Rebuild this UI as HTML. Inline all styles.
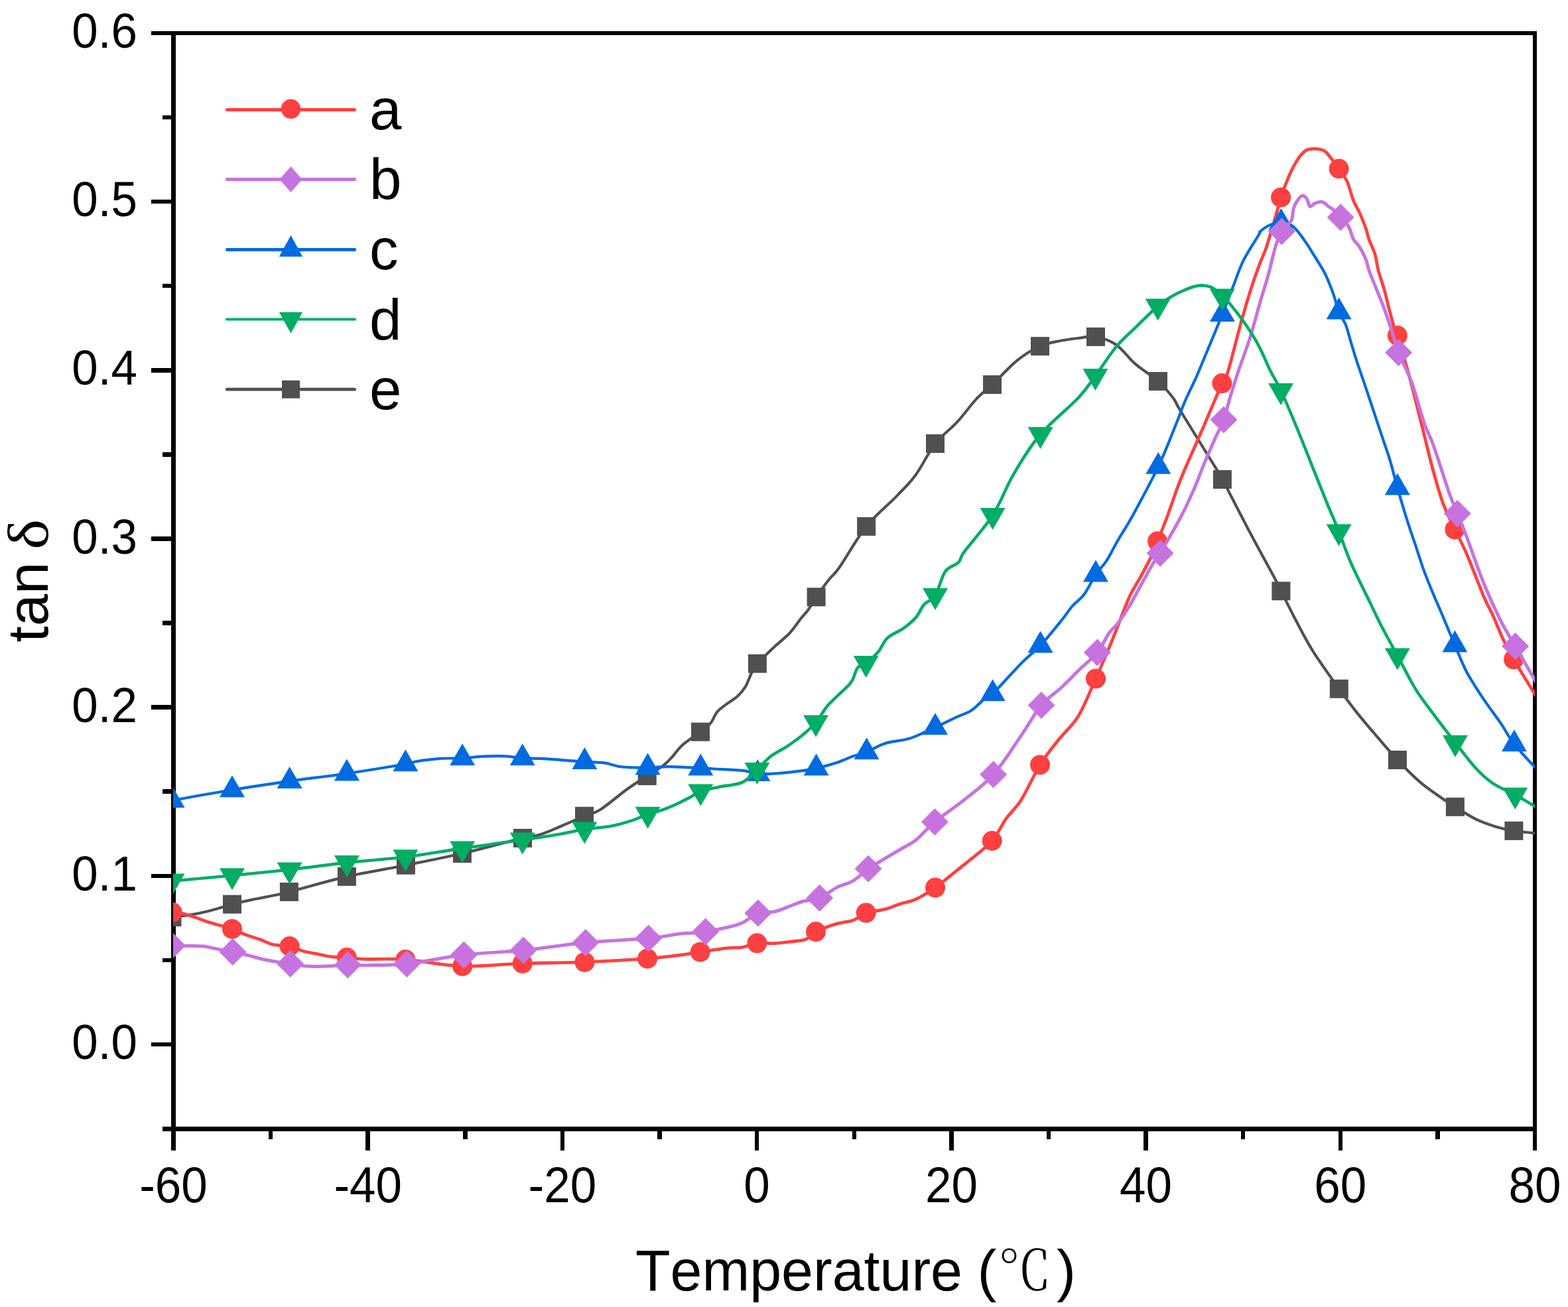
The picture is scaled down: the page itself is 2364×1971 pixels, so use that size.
<!DOCTYPE html>
<html><head><meta charset="utf-8"><title>tan delta vs Temperature</title>
<style>
html,body{margin:0;padding:0;background:#fff;}
svg{display:block;}
text{font-kerning:none;}
.tl{font-family:'Liberation Sans', Arial, sans-serif;font-size:71px;fill:#000;}
.at{font-family:'Liberation Sans', Arial, sans-serif;font-size:87px;fill:#000;}
.lg{font-family:'Liberation Sans', Arial, sans-serif;font-size:87px;fill:#000;}
.cj{font-family:'Noto Serif CJK SC','Liberation Serif',serif;font-weight:300;font-size:87px;fill:#000;}
.at.sy{font-family:'Liberation Serif',serif;}
</style></head>
<body>
<svg width="2364" height="1971" viewBox="0 0 2364 1971">
<defs><clipPath id="pa"><rect x="261" y="50" width="2053" height="1652.5"/></clipPath></defs>
<rect width="2364" height="1971" fill="#fff"/>
<g shape-rendering="crispEdges">
<rect x="258" y="47" width="2059" height="6" fill="#000"/>
<rect x="245" y="1699" width="2072" height="7" fill="#000"/>
<rect x="258" y="47" width="7" height="1688" fill="#000"/>
<rect x="2311" y="47" width="6" height="1659" fill="#000"/>
<rect x="245" y="1698.84" width="13" height="6.5" fill="#000"/>
<rect x="228" y="1571.75" width="30" height="6.5" fill="#000"/>
<rect x="245" y="1444.66" width="13" height="6.5" fill="#000"/>
<rect x="228" y="1317.58" width="30" height="6.5" fill="#000"/>
<rect x="245" y="1190.49" width="13" height="6.5" fill="#000"/>
<rect x="228" y="1063.41" width="30" height="6.5" fill="#000"/>
<rect x="245" y="936.32" width="13" height="6.5" fill="#000"/>
<rect x="228" y="809.24" width="30" height="6.5" fill="#000"/>
<rect x="245" y="682.15" width="13" height="6.5" fill="#000"/>
<rect x="228" y="555.07" width="30" height="6.5" fill="#000"/>
<rect x="245" y="427.99" width="13" height="6.5" fill="#000"/>
<rect x="228" y="300.90" width="30" height="6.5" fill="#000"/>
<rect x="245" y="173.82" width="13" height="6.5" fill="#000"/>
<rect x="228" y="46.73" width="30" height="6.5" fill="#000"/>
<rect x="258.25" y="1705" width="6.5" height="30" fill="#000"/>
<rect x="404.86" y="1705" width="6.5" height="13" fill="#000"/>
<rect x="551.46" y="1705" width="6.5" height="30" fill="#000"/>
<rect x="698.07" y="1705" width="6.5" height="13" fill="#000"/>
<rect x="844.68" y="1705" width="6.5" height="30" fill="#000"/>
<rect x="991.29" y="1705" width="6.5" height="13" fill="#000"/>
<rect x="1137.89" y="1705" width="6.5" height="30" fill="#000"/>
<rect x="1284.50" y="1705" width="6.5" height="13" fill="#000"/>
<rect x="1431.11" y="1705" width="6.5" height="30" fill="#000"/>
<rect x="1577.71" y="1705" width="6.5" height="13" fill="#000"/>
<rect x="1724.32" y="1705" width="6.5" height="30" fill="#000"/>
<rect x="1870.93" y="1705" width="6.5" height="13" fill="#000"/>
<rect x="2017.54" y="1705" width="6.5" height="30" fill="#000"/>
<rect x="2164.14" y="1705" width="6.5" height="13" fill="#000"/>
<rect x="2310.75" y="1705" width="6.5" height="30" fill="#000"/>
</g>
<g clip-path="url(#pa)">
<path d="M259.5,1383.0 C261.7,1382.7 267.3,1382.1 272.9,1381.4 C278.5,1380.7 286.7,1379.7 292.9,1378.6 C299.1,1377.5 304.1,1376.4 310.0,1375.0 C315.9,1373.6 321.9,1371.9 328.6,1370.0 C335.3,1368.1 341.7,1365.9 350.0,1363.7 C358.3,1361.5 370.3,1358.9 378.6,1357.1 C386.9,1355.3 390.4,1354.9 400.0,1352.9 C409.6,1350.9 415.4,1350.2 435.9,1345.0 C456.4,1339.8 493.6,1328.6 522.9,1321.9 C552.2,1315.2 582.9,1310.5 611.9,1304.7 C640.9,1298.9 667.5,1293.8 696.9,1287.0 C726.2,1280.2 768.4,1268.6 788.0,1263.9 C807.6,1259.2 804.6,1261.6 814.3,1258.6 C824.0,1255.6 835.3,1250.3 846.4,1245.7 C857.5,1241.1 871.2,1234.8 881.0,1230.7 C890.8,1226.6 894.3,1227.7 905.0,1221.0 C915.7,1214.3 933.2,1199.0 945.0,1190.5 C956.8,1182.0 966.5,1176.1 975.7,1170.1 C984.9,1164.1 993.6,1159.2 1000.0,1154.3 C1006.4,1149.4 1009.5,1145.6 1014.3,1140.5 C1019.1,1135.4 1021.6,1129.9 1028.6,1123.8 C1035.5,1117.7 1048.9,1109.2 1056.0,1103.7 C1063.1,1098.2 1067.2,1095.5 1071.4,1090.5 C1075.6,1085.5 1077.0,1078.6 1081.0,1073.8 C1085.0,1069.0 1090.0,1065.9 1095.2,1061.9 C1100.4,1057.9 1107.1,1054.4 1111.9,1050.0 C1116.7,1045.6 1120.2,1041.7 1123.8,1035.7 C1127.4,1029.8 1130.3,1020.1 1133.3,1014.3 C1136.3,1008.5 1136.3,1007.1 1141.9,1000.7 C1147.5,994.4 1158.6,983.9 1166.7,976.2 C1174.8,968.6 1183.8,961.9 1190.5,954.8 C1197.2,947.6 1202.3,939.3 1207.1,933.3 C1211.8,927.3 1215.1,924.5 1219.0,919.0 C1222.9,913.5 1225.4,907.8 1230.6,900.3 C1235.8,892.8 1244.1,881.3 1250.0,873.8 C1255.9,866.2 1256.7,868.3 1266.0,855.0 C1275.3,841.7 1291.9,811.6 1306.1,793.9 C1320.3,776.2 1339.1,761.4 1351.4,748.6 C1363.7,735.8 1370.2,730.4 1380.0,717.1 C1389.8,703.8 1399.5,682.4 1410.0,669.0 C1420.5,655.6 1432.7,647.8 1442.9,636.7 C1453.1,625.6 1462.6,611.9 1471.4,602.4 C1480.2,592.9 1485.5,589.9 1496.0,580.0 C1506.5,570.1 1522.3,552.5 1534.3,542.9 C1546.3,533.2 1557.5,526.9 1568.0,522.1 C1578.5,517.3 1587.4,516.3 1597.0,514.3 C1606.6,512.3 1616.5,511.1 1625.7,510.0 C1634.9,508.9 1642.5,506.2 1652.0,507.9 C1661.5,509.6 1673.0,513.2 1682.9,520.0 C1692.8,526.8 1700.9,539.4 1711.4,548.6 C1721.9,557.8 1736.5,566.4 1746.0,575.0 C1755.5,583.6 1762.9,592.5 1768.6,600.0 C1774.3,607.5 1770.5,604.3 1780.0,620.0 C1789.5,635.7 1815.2,676.8 1825.7,694.0 C1836.2,711.2 1833.4,705.3 1842.9,723.0 C1852.4,740.7 1869.6,774.8 1882.9,800.0 C1896.2,825.2 1914.8,858.8 1922.9,874.0 C1931.0,889.2 1926.2,880.9 1931.4,891.3 C1936.6,901.7 1946.2,921.3 1954.3,936.6 C1962.4,951.9 1969.2,965.9 1980.0,982.9 C1990.8,999.9 2008.1,1023.8 2018.8,1038.8 C2029.5,1053.8 2035.8,1062.1 2044.3,1072.9 C2052.8,1083.7 2059.6,1091.5 2070.0,1103.7 C2080.4,1115.9 2095.2,1133.5 2106.9,1146.0 C2118.6,1158.5 2129.7,1169.6 2140.0,1178.6 C2150.3,1187.6 2159.6,1193.6 2168.6,1200.0 C2177.6,1206.4 2184.4,1210.8 2193.9,1216.8 C2203.4,1222.8 2215.6,1230.8 2225.7,1235.7 C2235.8,1240.6 2244.9,1243.5 2254.3,1246.4 C2263.8,1249.3 2272.1,1251.2 2282.4,1252.9 C2292.7,1254.6 2310.4,1256.0 2316.0,1256.6" fill="none" stroke="#505050" stroke-width="4.2" stroke-linejoin="round" stroke-linecap="round"/>
<rect x="245.5" y="1369.0" width="28.0" height="28.0" fill="#505050"/>
<rect x="336.0" y="1349.7" width="28.0" height="28.0" fill="#505050"/>
<rect x="421.9" y="1331.0" width="28.0" height="28.0" fill="#505050"/>
<rect x="508.9" y="1307.9" width="28.0" height="28.0" fill="#505050"/>
<rect x="597.9" y="1290.7" width="28.0" height="28.0" fill="#505050"/>
<rect x="682.9" y="1273.0" width="28.0" height="28.0" fill="#505050"/>
<rect x="774.0" y="1249.9" width="28.0" height="28.0" fill="#505050"/>
<rect x="867.0" y="1216.7" width="28.0" height="28.0" fill="#505050"/>
<rect x="961.7" y="1156.1" width="28.0" height="28.0" fill="#505050"/>
<rect x="1042.0" y="1089.7" width="28.0" height="28.0" fill="#505050"/>
<rect x="1127.9" y="986.7" width="28.0" height="28.0" fill="#505050"/>
<rect x="1216.6" y="886.3" width="28.0" height="28.0" fill="#505050"/>
<rect x="1292.1" y="779.9" width="28.0" height="28.0" fill="#505050"/>
<rect x="1396.0" y="655.0" width="28.0" height="28.0" fill="#505050"/>
<rect x="1482.0" y="566.0" width="28.0" height="28.0" fill="#505050"/>
<rect x="1554.0" y="508.1" width="28.0" height="28.0" fill="#505050"/>
<rect x="1638.0" y="493.9" width="28.0" height="28.0" fill="#505050"/>
<rect x="1732.0" y="561.0" width="28.0" height="28.0" fill="#505050"/>
<rect x="1828.9" y="709.0" width="28.0" height="28.0" fill="#505050"/>
<rect x="1917.4" y="877.3" width="28.0" height="28.0" fill="#505050"/>
<rect x="2004.8" y="1024.8" width="28.0" height="28.0" fill="#505050"/>
<rect x="2092.9" y="1132.0" width="28.0" height="28.0" fill="#505050"/>
<rect x="2179.9" y="1202.8" width="28.0" height="28.0" fill="#505050"/>
<rect x="2268.4" y="1238.9" width="28.0" height="28.0" fill="#505050"/>
<path d="M259.5,1375.7 C261.9,1375.9 268.0,1375.9 273.6,1377.1 C279.2,1378.3 286.8,1380.9 292.9,1382.9 C299.0,1384.9 304.3,1387.4 310.0,1389.3 C315.7,1391.2 320.4,1392.4 327.1,1394.3 C333.8,1396.2 342.6,1398.3 350.0,1400.9 C357.4,1403.5 364.2,1407.3 371.4,1410.0 C378.5,1412.7 386.2,1414.7 392.9,1417.1 C399.6,1419.5 404.1,1422.6 411.4,1424.3 C418.7,1426.0 429.0,1425.3 436.6,1427.0 C444.2,1428.7 450.1,1432.4 457.1,1434.3 C464.1,1436.2 471.5,1437.2 478.6,1438.6 C485.8,1440.0 492.6,1442.0 500.0,1442.9 C507.4,1443.8 514.6,1443.4 522.9,1444.0 C531.2,1444.6 535.2,1445.9 550.0,1446.4 C564.8,1446.9 586.9,1445.2 611.4,1447.0 C635.9,1448.8 667.7,1456.0 697.1,1457.0 C726.5,1458.0 757.0,1453.9 787.7,1452.9 C818.4,1451.9 850.0,1452.1 881.4,1450.9 C912.8,1449.7 952.3,1447.4 976.0,1445.7 C999.7,1444.0 1010.5,1442.2 1023.8,1440.5 C1037.1,1438.8 1043.8,1437.5 1055.7,1435.7 C1067.6,1433.9 1084.7,1431.0 1095.2,1429.8 C1105.8,1428.6 1111.3,1429.8 1119.0,1428.6 C1126.7,1427.3 1133.5,1423.3 1141.4,1422.3 C1149.4,1421.3 1158.5,1422.9 1166.7,1422.6 C1174.9,1422.2 1182.6,1421.2 1190.5,1420.2 C1198.4,1419.2 1207.7,1419.2 1214.3,1416.7 C1220.9,1414.2 1222.1,1409.1 1230.0,1405.1 C1237.9,1401.1 1252.6,1395.7 1261.9,1392.9 C1271.2,1390.1 1278.4,1390.8 1285.7,1388.1 C1293.0,1385.4 1297.8,1379.4 1305.7,1376.6 C1313.6,1373.8 1324.7,1373.7 1333.3,1371.4 C1341.9,1369.2 1349.1,1365.7 1357.1,1363.1 C1365.0,1360.5 1372.2,1360.1 1381.0,1356.0 C1389.8,1351.9 1400.1,1345.5 1410.0,1338.6 C1419.9,1331.6 1431.5,1321.5 1440.5,1314.3 C1449.5,1307.1 1455.1,1302.9 1464.3,1295.2 C1473.5,1287.5 1486.9,1278.2 1495.7,1268.0 C1504.5,1257.8 1509.6,1244.7 1517.0,1234.3 C1524.4,1223.9 1531.5,1219.2 1540.0,1205.7 C1548.5,1192.2 1558.5,1168.6 1568.0,1153.4 C1577.5,1138.2 1587.4,1126.5 1597.0,1114.3 C1606.6,1102.1 1616.5,1095.2 1625.7,1080.0 C1634.9,1064.8 1644.3,1040.5 1652.0,1023.4 C1659.7,1006.2 1666.4,990.5 1672.0,977.1 C1677.6,963.7 1680.6,955.6 1685.7,942.8 C1690.8,929.9 1697.1,912.3 1702.8,900.0 C1708.5,887.7 1714.3,879.7 1720.0,869.1 C1725.7,858.5 1732.9,845.4 1737.1,836.6 C1741.3,827.8 1741.4,825.7 1745.1,816.3 C1748.8,806.9 1753.6,795.6 1759.4,780.0 C1765.2,764.4 1771.8,743.4 1780.0,722.9 C1788.2,702.4 1799.7,677.6 1808.6,657.0 C1817.5,636.4 1827.8,612.2 1833.4,599.1 C1839.0,586.0 1839.4,584.6 1842.4,578.1 C1845.4,571.6 1846.5,575.9 1851.4,560.0 C1856.3,544.1 1866.0,504.3 1872.0,482.9 C1878.0,461.5 1882.7,445.9 1887.4,431.4 C1892.1,416.9 1896.3,405.6 1900.0,395.8 C1903.7,386.0 1905.5,384.1 1909.4,372.4 C1913.3,360.7 1919.8,338.1 1923.4,325.6 C1927.0,313.2 1928.4,306.3 1931.1,297.7 C1933.8,289.1 1936.8,281.6 1939.8,274.1 C1942.8,266.7 1945.7,259.6 1949.2,253.0 C1952.7,246.4 1957.4,238.8 1960.9,234.3 C1964.4,229.8 1966.7,227.8 1970.2,226.1 C1973.7,224.4 1977.6,224.2 1981.9,224.4 C1986.2,224.6 1992.1,225.2 1996.0,227.2 C1999.9,229.2 2001.5,232.0 2005.3,236.6 C2009.1,241.2 2014.3,248.2 2018.6,254.5 C2022.9,260.8 2027.5,266.2 2031.1,274.1 C2034.7,282.1 2037.3,294.4 2040.4,302.2 C2043.5,310.0 2046.7,313.9 2049.8,320.9 C2052.9,327.9 2056.8,337.7 2059.2,344.3 C2061.5,350.9 2061.6,354.1 2063.9,360.7 C2066.2,367.3 2070.9,376.3 2073.2,384.1 C2075.5,391.9 2075.6,398.5 2077.9,407.5 C2080.2,416.5 2084.6,428.1 2087.3,437.9 C2090.0,447.6 2091.6,455.5 2094.3,466.0 C2097.0,476.5 2101.6,494.4 2103.7,501.1 C2105.8,507.8 2103.9,496.9 2106.8,506.0 C2109.8,515.0 2116.8,539.0 2121.4,555.4 C2126.0,571.8 2130.0,587.6 2134.3,604.3 C2138.6,621.0 2142.8,638.6 2147.1,655.7 C2151.4,672.8 2155.3,690.0 2160.0,707.1 C2164.7,724.2 2169.8,743.4 2175.4,758.6 C2181.0,773.8 2187.4,785.5 2193.4,798.4 C2199.4,811.2 2204.1,818.8 2211.4,835.7 C2218.7,852.6 2230.7,884.9 2237.1,900.0 C2243.5,915.1 2245.3,915.9 2250.0,926.3 C2254.7,936.7 2260.1,950.9 2265.4,962.3 C2270.8,973.6 2273.7,979.8 2282.1,994.4 C2290.5,1009.0 2310.3,1040.7 2316.0,1050.0" fill="none" stroke="#FF4040" stroke-width="4.8" stroke-linejoin="round" stroke-linecap="round"/>
<circle cx="259.5" cy="1375.7" r="15.00" fill="#FF4040"/>
<circle cx="350.0" cy="1400.9" r="15.00" fill="#FF4040"/>
<circle cx="436.6" cy="1427.0" r="15.00" fill="#FF4040"/>
<circle cx="522.9" cy="1444.0" r="15.00" fill="#FF4040"/>
<circle cx="611.4" cy="1447.0" r="15.00" fill="#FF4040"/>
<circle cx="697.1" cy="1457.0" r="15.00" fill="#FF4040"/>
<circle cx="787.7" cy="1452.9" r="15.00" fill="#FF4040"/>
<circle cx="881.4" cy="1450.9" r="15.00" fill="#FF4040"/>
<circle cx="976.0" cy="1445.7" r="15.00" fill="#FF4040"/>
<circle cx="1055.7" cy="1435.7" r="15.00" fill="#FF4040"/>
<circle cx="1141.4" cy="1422.3" r="15.00" fill="#FF4040"/>
<circle cx="1230.0" cy="1405.1" r="15.00" fill="#FF4040"/>
<circle cx="1305.7" cy="1376.6" r="15.00" fill="#FF4040"/>
<circle cx="1410.0" cy="1338.6" r="15.00" fill="#FF4040"/>
<circle cx="1495.7" cy="1268.0" r="15.00" fill="#FF4040"/>
<circle cx="1568.0" cy="1153.4" r="15.00" fill="#FF4040"/>
<circle cx="1652.0" cy="1023.4" r="15.00" fill="#FF4040"/>
<circle cx="1745.1" cy="816.3" r="15.00" fill="#FF4040"/>
<circle cx="1842.4" cy="578.1" r="15.00" fill="#FF4040"/>
<circle cx="1931.1" cy="297.7" r="15.00" fill="#FF4040"/>
<circle cx="2018.6" cy="254.5" r="15.00" fill="#FF4040"/>
<circle cx="2106.8" cy="506.0" r="15.00" fill="#FF4040"/>
<circle cx="2193.4" cy="798.4" r="15.00" fill="#FF4040"/>
<circle cx="2282.1" cy="994.4" r="15.00" fill="#FF4040"/>
<path d="M259.5,1207.0 C274.6,1204.4 320.5,1196.1 350.0,1191.3 C379.5,1186.5 407.8,1182.0 436.6,1177.9 C465.4,1173.8 493.8,1170.8 522.9,1166.5 C552.0,1162.2 593.9,1155.3 611.4,1152.3 C628.9,1149.2 619.1,1149.6 627.9,1148.2 C636.7,1146.8 652.8,1144.7 664.3,1143.9 C675.8,1143.1 686.4,1143.8 697.1,1143.3 C707.8,1142.8 718.0,1141.2 728.6,1140.7 C739.2,1140.2 750.9,1139.9 760.7,1140.3 C770.6,1140.7 778.8,1142.7 787.7,1143.3 C796.6,1143.9 804.5,1143.4 814.3,1143.9 C824.1,1144.4 835.2,1145.3 846.4,1146.1 C857.6,1146.9 870.7,1148.2 881.4,1148.9 C892.1,1149.6 902.2,1149.3 910.7,1150.4 C919.2,1151.5 925.0,1154.5 932.1,1155.7 C939.2,1156.9 946.2,1157.1 953.6,1157.4 C961.0,1157.7 967.7,1157.8 976.6,1157.6 C985.5,1157.4 996.7,1156.1 1007.1,1156.1 C1017.5,1156.1 1031.1,1157.0 1039.3,1157.4 C1047.5,1157.8 1050.1,1158.2 1056.3,1158.5 C1062.5,1158.8 1065.8,1158.9 1076.2,1159.5 C1086.7,1160.1 1108.0,1160.7 1119.0,1161.9 C1130.0,1163.2 1134.3,1166.2 1142.3,1167.0 C1150.2,1167.8 1156.7,1167.4 1166.7,1166.7 C1176.7,1166.0 1191.8,1164.4 1202.4,1163.1 C1213.1,1161.8 1220.7,1160.8 1230.6,1158.6 C1240.5,1156.4 1252.7,1153.0 1261.9,1150.0 C1271.1,1147.0 1278.2,1143.1 1285.7,1140.5 C1293.2,1137.9 1298.7,1137.5 1306.6,1134.3 C1314.5,1131.1 1322.9,1124.7 1333.3,1121.4 C1343.7,1118.1 1359.1,1117.1 1369.0,1114.3 C1378.9,1111.5 1386.1,1107.7 1392.9,1104.8 C1399.7,1101.9 1402.1,1100.9 1410.0,1097.1 C1417.9,1093.3 1431.5,1086.4 1440.5,1082.1 C1449.5,1077.8 1457.2,1076.0 1464.3,1071.4 C1471.4,1066.9 1477.9,1059.0 1483.3,1054.8 C1488.7,1050.6 1487.1,1055.4 1496.6,1046.3 C1506.0,1037.2 1528.0,1012.1 1540.0,1000.0 C1552.0,987.9 1558.6,984.1 1568.6,973.4 C1578.6,962.7 1591.9,946.0 1600.0,936.0 C1608.1,926.0 1611.3,920.3 1617.0,913.7 C1622.7,907.1 1628.5,904.4 1634.3,896.5 C1640.1,888.6 1646.3,875.2 1652.0,866.6 C1657.7,858.0 1663.0,853.8 1668.6,845.1 C1674.2,836.4 1679.4,825.1 1685.7,814.3 C1692.0,803.4 1696.2,798.4 1706.3,780.0 C1716.4,761.6 1735.1,727.3 1746.3,703.7 C1757.5,680.1 1766.9,654.6 1773.5,638.5 C1780.1,622.4 1781.3,617.2 1785.8,606.8 C1790.2,596.4 1796.5,584.0 1800.2,576.0 C1803.9,568.0 1800.6,576.0 1807.7,559.0 C1814.8,542.0 1834.3,495.2 1842.9,474.0 C1851.5,452.8 1853.8,445.5 1859.1,432.0 C1864.4,418.5 1868.2,405.8 1874.6,392.9 C1881.0,379.9 1893.5,361.6 1897.7,354.3 C1901.9,347.0 1897.3,351.4 1900.0,349.0 C1902.7,346.6 1908.8,341.8 1914.0,339.6 C1919.2,337.4 1926.0,336.0 1931.5,336.0 C1937.0,336.0 1942.3,337.1 1946.8,339.6 C1951.3,342.2 1954.6,346.6 1958.5,351.3 C1962.4,356.0 1966.3,361.9 1970.2,367.7 C1974.1,373.5 1978.0,380.1 1981.9,386.4 C1985.8,392.6 1990.5,399.7 1993.6,405.2 C1996.7,410.7 1998.0,413.0 2000.7,419.2 C2003.4,425.4 2007.0,434.1 2010.0,442.6 C2013.0,451.2 2015.5,462.7 2018.6,470.5 C2021.7,478.3 2025.8,482.3 2028.7,489.4 C2031.6,496.4 2033.1,503.8 2035.8,512.8 C2038.5,521.8 2041.5,532.3 2045.1,543.3 C2048.7,554.3 2052.9,566.3 2057.1,578.6 C2061.2,590.9 2065.7,604.2 2070.0,617.1 C2074.3,630.0 2078.5,642.8 2082.8,655.7 C2087.1,668.6 2091.7,681.0 2095.7,694.3 C2099.7,707.6 2102.5,720.4 2106.8,735.4 C2111.1,750.4 2116.8,769.7 2121.4,784.3 C2126.0,798.9 2130.0,810.0 2134.3,822.9 C2138.6,835.8 2142.4,848.5 2147.1,861.4 C2151.8,874.2 2158.3,889.6 2162.6,900.0 C2166.9,910.4 2167.8,911.6 2172.9,923.7 C2178.0,935.8 2187.0,957.6 2193.4,972.6 C2199.8,987.6 2204.1,1000.0 2211.4,1013.7 C2218.7,1027.4 2228.5,1042.0 2237.1,1054.9 C2245.7,1067.8 2255.2,1079.7 2262.8,1090.9 C2270.4,1102.1 2274.0,1110.9 2282.9,1122.2 C2291.8,1133.5 2310.5,1152.9 2316.0,1159.0" fill="none" stroke="#006BE1" stroke-width="4.2" stroke-linejoin="round" stroke-linecap="round"/>
<path d="M259.5,1185.0L278.5,1218.0L240.5,1218.0Z" fill="#006BE1"/>
<path d="M350.0,1169.3L369.0,1202.3L331.0,1202.3Z" fill="#006BE1"/>
<path d="M436.6,1155.9L455.6,1188.9L417.6,1188.9Z" fill="#006BE1"/>
<path d="M522.9,1144.5L541.9,1177.5L503.9,1177.5Z" fill="#006BE1"/>
<path d="M611.4,1130.3L630.4,1163.3L592.4,1163.3Z" fill="#006BE1"/>
<path d="M697.1,1121.3L716.1,1154.3L678.1,1154.3Z" fill="#006BE1"/>
<path d="M787.7,1121.3L806.7,1154.3L768.7,1154.3Z" fill="#006BE1"/>
<path d="M881.4,1126.9L900.4,1159.9L862.4,1159.9Z" fill="#006BE1"/>
<path d="M976.6,1135.6L995.6,1168.6L957.6,1168.6Z" fill="#006BE1"/>
<path d="M1056.3,1136.5L1075.3,1169.5L1037.3,1169.5Z" fill="#006BE1"/>
<path d="M1142.3,1145.0L1161.3,1178.0L1123.3,1178.0Z" fill="#006BE1"/>
<path d="M1230.6,1136.6L1249.6,1169.6L1211.6,1169.6Z" fill="#006BE1"/>
<path d="M1306.6,1112.3L1325.6,1145.3L1287.6,1145.3Z" fill="#006BE1"/>
<path d="M1410.0,1075.1L1429.0,1108.1L1391.0,1108.1Z" fill="#006BE1"/>
<path d="M1496.6,1024.3L1515.6,1057.3L1477.6,1057.3Z" fill="#006BE1"/>
<path d="M1568.6,951.4L1587.6,984.4L1549.6,984.4Z" fill="#006BE1"/>
<path d="M1652.0,844.6L1671.0,877.6L1633.0,877.6Z" fill="#006BE1"/>
<path d="M1746.3,681.7L1765.3,714.7L1727.3,714.7Z" fill="#006BE1"/>
<path d="M1842.9,452.0L1861.9,485.0L1823.9,485.0Z" fill="#006BE1"/>
<path d="M1931.5,314.0L1950.5,347.0L1912.5,347.0Z" fill="#006BE1"/>
<path d="M2018.6,448.5L2037.6,481.5L1999.6,481.5Z" fill="#006BE1"/>
<path d="M2106.8,713.4L2125.8,746.4L2087.8,746.4Z" fill="#006BE1"/>
<path d="M2193.4,950.6L2212.4,983.6L2174.4,983.6Z" fill="#006BE1"/>
<path d="M2282.9,1100.2L2301.9,1133.2L2263.9,1133.2Z" fill="#006BE1"/>
<path d="M259.5,1426.0 C263.9,1426.1 277.8,1426.2 285.7,1426.4 C293.6,1426.6 299.9,1426.2 307.0,1427.0 C314.1,1427.8 321.3,1430.0 328.6,1431.4 C335.9,1432.8 343.8,1434.1 350.9,1435.5 C358.0,1436.9 364.4,1438.3 371.4,1440.0 C378.4,1441.7 385.8,1444.0 392.9,1445.7 C400.0,1447.4 406.8,1448.7 414.3,1450.0 C421.8,1451.3 429.4,1452.3 437.7,1453.5 C446.0,1454.7 455.1,1456.5 464.3,1457.1 C473.5,1457.7 482.9,1457.4 492.9,1457.1 C502.9,1456.8 514.8,1455.2 524.3,1455.0 C533.8,1454.8 535.1,1456.0 550.0,1455.7 C564.9,1455.4 588.5,1456.0 613.4,1453.4 C638.3,1450.8 670.1,1443.4 699.4,1440.0 C728.7,1436.6 758.5,1436.0 789.1,1432.9 C819.7,1429.8 851.5,1424.4 882.9,1421.4 C914.3,1418.4 954.2,1417.3 977.7,1415.1 C1001.2,1412.9 1012.9,1409.6 1023.8,1408.3 C1034.7,1407.0 1036.2,1407.6 1042.9,1407.1 C1049.6,1406.6 1055.0,1406.5 1063.7,1405.1 C1072.4,1403.7 1086.0,1401.0 1095.2,1398.8 C1104.4,1396.6 1111.0,1395.3 1119.0,1391.7 C1127.0,1388.1 1135.0,1379.9 1142.9,1377.1 C1150.9,1374.3 1158.8,1376.7 1166.7,1375.0 C1174.6,1373.3 1183.4,1369.3 1190.5,1366.7 C1197.6,1364.1 1202.0,1361.6 1209.5,1359.5 C1217.0,1357.4 1227.0,1357.9 1235.7,1354.3 C1244.4,1350.7 1253.6,1342.4 1261.9,1338.1 C1270.2,1333.8 1277.8,1333.3 1285.7,1328.6 C1293.6,1323.9 1301.2,1315.6 1309.1,1310.0 C1317.0,1304.4 1325.3,1300.0 1333.3,1295.2 C1341.3,1290.4 1349.1,1285.8 1357.1,1281.0 C1365.0,1276.2 1372.3,1273.6 1381.0,1266.7 C1389.7,1259.8 1397.2,1249.6 1409.4,1239.4 C1421.6,1229.2 1439.6,1217.6 1454.3,1205.7 C1469.0,1193.8 1483.4,1184.2 1497.7,1168.0 C1512.0,1151.8 1528.0,1126.0 1540.0,1108.6 C1552.0,1091.2 1560.0,1075.3 1570.0,1063.4 C1580.0,1051.5 1590.7,1045.7 1600.0,1037.0 C1609.3,1028.3 1616.7,1020.2 1625.7,1011.4 C1634.8,1002.6 1646.6,993.4 1654.3,984.0 C1662.0,974.6 1666.8,962.2 1672.0,954.8 C1677.2,947.4 1680.6,946.2 1685.7,939.4 C1690.8,932.5 1697.1,923.1 1702.8,913.7 C1708.5,904.3 1714.3,893.1 1720.0,882.8 C1725.7,872.5 1732.2,860.1 1737.1,852.0 C1741.9,843.9 1741.9,846.3 1749.1,834.3 C1756.2,822.3 1771.5,796.0 1780.0,780.0 C1788.5,764.0 1794.1,751.4 1800.0,738.0 C1805.9,724.6 1810.2,711.8 1815.4,699.4 C1820.6,687.0 1826.0,674.4 1830.9,663.4 C1835.8,652.4 1841.1,643.7 1845.0,633.1 C1848.9,622.5 1850.6,612.2 1854.3,600.0 C1858.0,587.8 1861.8,575.2 1866.9,560.0 C1872.0,544.8 1879.4,526.1 1884.9,508.6 C1890.4,491.1 1895.5,470.6 1900.0,455.0 C1904.5,439.4 1908.2,428.8 1912.0,415.0 C1915.8,401.2 1919.6,383.0 1923.0,372.0 C1926.4,361.0 1928.4,355.7 1932.4,349.1 C1936.4,342.5 1943.8,338.5 1946.8,332.6 C1949.8,326.7 1948.7,319.0 1950.3,313.9 C1951.9,308.8 1954.0,305.3 1956.2,302.2 C1958.4,299.1 1960.9,295.5 1963.2,295.1 C1965.5,294.7 1968.2,297.1 1970.2,299.8 C1972.2,302.5 1973.0,310.3 1974.9,311.5 C1976.9,312.7 1978.8,308.0 1981.9,306.8 C1985.0,305.6 1990.1,303.7 1993.6,304.5 C1997.1,305.3 2000.3,309.6 2003.0,311.5 C2005.7,313.4 2007.0,313.5 2010.0,316.2 C2013.0,318.9 2017.2,323.5 2021.1,327.8 C2025.0,332.1 2030.2,336.5 2033.4,342.0 C2036.6,347.5 2037.7,355.6 2040.4,360.7 C2043.1,365.8 2046.7,367.3 2049.8,372.4 C2052.9,377.5 2056.8,385.2 2059.2,391.1 C2061.5,397.0 2061.6,400.9 2063.9,407.5 C2066.2,414.1 2070.1,423.1 2073.2,430.9 C2076.3,438.7 2079.9,447.3 2082.6,454.3 C2085.3,461.3 2086.9,465.2 2089.6,473.0 C2092.3,480.8 2095.8,491.3 2099.0,501.1 C2102.2,510.9 2103.6,518.8 2108.6,531.7 C2113.6,544.6 2122.7,560.9 2129.1,578.6 C2135.5,596.3 2141.9,622.7 2147.1,637.7 C2152.2,652.7 2155.7,657.0 2160.0,668.6 C2164.3,680.2 2168.6,694.2 2172.9,707.1 C2177.2,720.0 2181.6,734.5 2185.7,745.7 C2189.8,756.9 2193.0,763.8 2197.3,774.5 C2201.6,785.2 2204.8,792.4 2211.4,810.0 C2218.0,827.6 2228.5,858.9 2237.1,880.0 C2245.7,901.1 2254.9,920.8 2262.8,936.6 C2270.7,952.4 2275.8,959.2 2284.7,974.6 C2293.6,990.0 2310.8,1019.9 2316.0,1029.0" fill="none" stroke="#C673E0" stroke-width="5.0" stroke-linejoin="round" stroke-linecap="round"/>
<path d="M259.5,1405.5L280.0,1426.0L259.5,1446.5L239.0,1426.0Z" fill="#C673E0"/>
<path d="M350.9,1415.0L371.4,1435.5L350.9,1456.0L330.4,1435.5Z" fill="#C673E0"/>
<path d="M437.7,1433.0L458.2,1453.5L437.7,1474.0L417.2,1453.5Z" fill="#C673E0"/>
<path d="M524.3,1434.5L544.8,1455.0L524.3,1475.5L503.8,1455.0Z" fill="#C673E0"/>
<path d="M613.4,1432.9L633.9,1453.4L613.4,1473.9L592.9,1453.4Z" fill="#C673E0"/>
<path d="M699.4,1419.5L719.9,1440.0L699.4,1460.5L678.9,1440.0Z" fill="#C673E0"/>
<path d="M789.1,1412.4L809.6,1432.9L789.1,1453.4L768.6,1432.9Z" fill="#C673E0"/>
<path d="M882.9,1400.9L903.4,1421.4L882.9,1441.9L862.4,1421.4Z" fill="#C673E0"/>
<path d="M977.7,1394.6L998.2,1415.1L977.7,1435.6L957.2,1415.1Z" fill="#C673E0"/>
<path d="M1063.7,1384.6L1084.2,1405.1L1063.7,1425.6L1043.2,1405.1Z" fill="#C673E0"/>
<path d="M1142.9,1356.6L1163.4,1377.1L1142.9,1397.6L1122.4,1377.1Z" fill="#C673E0"/>
<path d="M1235.7,1333.8L1256.2,1354.3L1235.7,1374.8L1215.2,1354.3Z" fill="#C673E0"/>
<path d="M1309.1,1289.5L1329.6,1310.0L1309.1,1330.5L1288.6,1310.0Z" fill="#C673E0"/>
<path d="M1409.4,1218.9L1429.9,1239.4L1409.4,1259.9L1388.9,1239.4Z" fill="#C673E0"/>
<path d="M1497.7,1147.5L1518.2,1168.0L1497.7,1188.5L1477.2,1168.0Z" fill="#C673E0"/>
<path d="M1570.0,1042.9L1590.5,1063.4L1570.0,1083.9L1549.5,1063.4Z" fill="#C673E0"/>
<path d="M1654.3,963.5L1674.8,984.0L1654.3,1004.5L1633.8,984.0Z" fill="#C673E0"/>
<path d="M1749.1,813.8L1769.6,834.3L1749.1,854.8L1728.6,834.3Z" fill="#C673E0"/>
<path d="M1845.0,612.6L1865.5,633.1L1845.0,653.6L1824.5,633.1Z" fill="#C673E0"/>
<path d="M1932.4,328.6L1952.9,349.1L1932.4,369.6L1911.9,349.1Z" fill="#C673E0"/>
<path d="M2021.1,307.3L2041.6,327.8L2021.1,348.3L2000.6,327.8Z" fill="#C673E0"/>
<path d="M2108.6,511.2L2129.1,531.7L2108.6,552.2L2088.1,531.7Z" fill="#C673E0"/>
<path d="M2197.3,754.0L2217.8,774.5L2197.3,795.0L2176.8,774.5Z" fill="#C673E0"/>
<path d="M2284.7,954.1L2305.2,974.6L2284.7,995.1L2264.2,974.6Z" fill="#C673E0"/>
<path d="M259.5,1328.6 C274.6,1327.2 320.5,1323.2 350.0,1320.3 C379.5,1317.4 407.8,1314.6 436.6,1311.4 C465.4,1308.2 493.8,1304.1 522.9,1300.9 C552.0,1297.7 582.4,1295.9 611.4,1292.3 C640.4,1288.7 667.7,1283.7 697.1,1279.4 C726.5,1275.1 768.2,1269.4 787.7,1266.6 C807.2,1263.8 804.5,1264.3 814.3,1262.8 C824.1,1261.3 835.2,1259.5 846.4,1257.5 C857.6,1255.5 868.9,1252.6 881.4,1250.6 C893.9,1248.6 909.4,1248.0 921.4,1245.7 C933.4,1243.5 944.4,1240.1 953.6,1237.1 C962.8,1234.1 969.5,1230.2 976.6,1227.7 C983.7,1225.2 989.5,1224.4 996.4,1222.1 C1003.3,1219.8 1010.8,1216.8 1017.9,1213.6 C1025.0,1210.4 1032.9,1206.3 1039.3,1202.9 C1045.7,1199.5 1049.0,1196.1 1056.3,1193.4 C1063.6,1190.7 1072.8,1189.2 1083.3,1186.9 C1093.8,1184.6 1109.3,1184.1 1119.0,1179.8 C1128.7,1175.5 1134.2,1167.5 1141.4,1160.9 C1148.6,1154.4 1154.5,1146.3 1161.9,1140.5 C1169.3,1134.7 1179.0,1130.6 1185.7,1126.2 C1192.5,1121.8 1197.6,1117.9 1202.4,1114.3 C1207.2,1110.7 1209.7,1108.9 1214.3,1104.8 C1218.9,1100.7 1224.5,1096.2 1230.0,1089.4 C1235.5,1082.7 1242.3,1070.9 1247.6,1064.3 C1252.9,1057.7 1256.0,1056.0 1261.9,1050.0 C1267.9,1044.0 1278.1,1035.8 1283.3,1028.6 C1288.5,1021.4 1289.2,1011.9 1292.9,1007.1 C1296.6,1002.3 1300.6,1004.0 1305.7,1000.0 C1310.8,996.0 1318.4,989.6 1323.8,983.3 C1329.2,976.9 1331.8,967.8 1338.1,961.9 C1344.4,956.0 1354.8,952.8 1361.9,947.6 C1369.1,942.5 1375.8,937.0 1381.0,931.0 C1386.2,925.0 1388.1,917.4 1392.9,911.9 C1397.7,906.4 1404.7,906.3 1410.0,898.0 C1415.3,889.7 1419.2,870.3 1425.0,862.0 C1430.8,853.7 1440.1,853.1 1445.0,848.0 C1449.9,842.9 1445.7,843.2 1454.3,831.4 C1462.9,819.6 1484.2,796.6 1496.6,777.1 C1509.0,757.6 1516.6,734.6 1528.6,714.3 C1540.6,694.0 1552.4,674.1 1568.6,655.1 C1584.8,636.1 1611.9,614.7 1625.7,600.0 C1639.5,585.3 1641.9,579.8 1651.4,566.9 C1660.9,554.0 1672.9,535.0 1682.9,522.9 C1692.9,510.8 1700.9,504.6 1711.4,494.3 C1721.9,484.1 1736.2,469.5 1745.7,461.4 C1755.2,453.3 1759.1,450.7 1768.6,445.7 C1778.1,440.7 1793.4,433.5 1802.9,431.4 C1812.4,429.3 1819.0,430.4 1825.7,432.9 C1832.4,435.4 1838.6,443.0 1842.9,446.6 C1847.2,450.2 1845.7,447.7 1851.4,454.6 C1857.1,461.5 1869.4,476.9 1877.1,488.0 C1884.8,499.1 1891.3,509.4 1897.7,521.4 C1904.1,533.4 1910.1,548.8 1915.7,560.0 C1921.3,571.2 1924.7,575.1 1931.1,588.9 C1937.5,602.7 1946.1,623.2 1954.3,642.9 C1962.5,662.6 1972.3,687.8 1980.0,707.1 C1987.7,726.4 1994.2,742.9 2000.6,758.6 C2007.0,774.3 2012.6,786.5 2018.6,801.5 C2024.6,816.5 2029.3,831.9 2036.6,848.6 C2043.9,865.4 2054.6,886.0 2062.3,902.0 C2070.0,918.0 2075.4,929.9 2082.8,944.3 C2090.2,958.7 2098.2,972.6 2106.8,988.5 C2115.4,1004.4 2125.4,1024.9 2134.3,1039.4 C2143.2,1053.9 2150.1,1062.0 2160.0,1075.4 C2169.9,1088.8 2183.2,1106.0 2193.9,1119.7 C2204.6,1133.4 2215.0,1147.5 2224.3,1157.7 C2233.7,1167.9 2240.0,1174.0 2250.0,1180.8 C2260.0,1187.6 2273.3,1192.8 2284.3,1198.8 C2295.3,1204.8 2310.7,1214.0 2316.0,1217.0" fill="none" stroke="#00AD64" stroke-width="4.6" stroke-linejoin="round" stroke-linecap="round"/>
<path d="M240.5,1317.6L278.5,1317.6L259.5,1350.6Z" fill="#00AD64"/>
<path d="M331.0,1309.3L369.0,1309.3L350.0,1342.3Z" fill="#00AD64"/>
<path d="M417.6,1300.4L455.6,1300.4L436.6,1333.4Z" fill="#00AD64"/>
<path d="M503.9,1289.9L541.9,1289.9L522.9,1322.9Z" fill="#00AD64"/>
<path d="M592.4,1281.3L630.4,1281.3L611.4,1314.3Z" fill="#00AD64"/>
<path d="M678.1,1268.4L716.1,1268.4L697.1,1301.4Z" fill="#00AD64"/>
<path d="M768.7,1255.6L806.7,1255.6L787.7,1288.6Z" fill="#00AD64"/>
<path d="M862.4,1239.6L900.4,1239.6L881.4,1272.6Z" fill="#00AD64"/>
<path d="M957.6,1216.7L995.6,1216.7L976.6,1249.7Z" fill="#00AD64"/>
<path d="M1037.3,1182.4L1075.3,1182.4L1056.3,1215.4Z" fill="#00AD64"/>
<path d="M1122.4,1149.9L1160.4,1149.9L1141.4,1182.9Z" fill="#00AD64"/>
<path d="M1211.0,1078.4L1249.0,1078.4L1230.0,1111.4Z" fill="#00AD64"/>
<path d="M1286.7,989.0L1324.7,989.0L1305.7,1022.0Z" fill="#00AD64"/>
<path d="M1391.0,887.0L1429.0,887.0L1410.0,920.0Z" fill="#00AD64"/>
<path d="M1477.6,766.1L1515.6,766.1L1496.6,799.1Z" fill="#00AD64"/>
<path d="M1549.6,644.1L1587.6,644.1L1568.6,677.1Z" fill="#00AD64"/>
<path d="M1632.4,555.9L1670.4,555.9L1651.4,588.9Z" fill="#00AD64"/>
<path d="M1726.7,450.4L1764.7,450.4L1745.7,483.4Z" fill="#00AD64"/>
<path d="M1823.9,435.6L1861.9,435.6L1842.9,468.6Z" fill="#00AD64"/>
<path d="M1912.1,577.9L1950.1,577.9L1931.1,610.9Z" fill="#00AD64"/>
<path d="M1999.6,790.5L2037.6,790.5L2018.6,823.5Z" fill="#00AD64"/>
<path d="M2087.8,977.5L2125.8,977.5L2106.8,1010.5Z" fill="#00AD64"/>
<path d="M2174.9,1108.7L2212.9,1108.7L2193.9,1141.7Z" fill="#00AD64"/>
<path d="M2265.3,1187.8L2303.3,1187.8L2284.3,1220.8Z" fill="#00AD64"/>
</g>
<text transform="translate(207,1597.0) scale(1,1.045)" text-anchor="end" class="tl">0.0</text>
<text transform="translate(207,1342.8) scale(1,1.045)" text-anchor="end" class="tl">0.1</text>
<text transform="translate(207,1088.7) scale(1,1.045)" text-anchor="end" class="tl">0.2</text>
<text transform="translate(207,834.5) scale(1,1.045)" text-anchor="end" class="tl">0.3</text>
<text transform="translate(207,580.3) scale(1,1.045)" text-anchor="end" class="tl">0.4</text>
<text transform="translate(207,326.2) scale(1,1.045)" text-anchor="end" class="tl">0.5</text>
<text transform="translate(207,72.0) scale(1,1.045)" text-anchor="end" class="tl">0.6</text>
<text transform="translate(261.5,1813) scale(1,1.06)" text-anchor="middle" class="tl">-60</text>
<text transform="translate(554.7,1813) scale(1,1.06)" text-anchor="middle" class="tl">-40</text>
<text transform="translate(847.9,1813) scale(1,1.06)" text-anchor="middle" class="tl">-20</text>
<text transform="translate(1141.1,1813) scale(1,1.06)" text-anchor="middle" class="tl">0</text>
<text transform="translate(1434.4,1813) scale(1,1.06)" text-anchor="middle" class="tl">20</text>
<text transform="translate(1727.6,1813) scale(1,1.06)" text-anchor="middle" class="tl">40</text>
<text transform="translate(2020.8,1813) scale(1,1.06)" text-anchor="middle" class="tl">60</text>
<text transform="translate(2314.0,1813) scale(1,1.06)" text-anchor="middle" class="tl">80</text>
<text transform="translate(958,1945.5) scale(0.99,1)" class="at">Temperature</text>
<text x="1473.5" y="1945.5" class="at">(</text>
<text transform="translate(1504.5,1945.4) scale(0.93,0.946)" class="cj">℃</text>
<text x="1593" y="1945.5" class="at">)</text>
<text transform="translate(72,968.5) rotate(-90)" class="at">tan</text>
<text transform="translate(72,828.7) rotate(-90) scale(1.12,1)" class="at sy">δ</text>
<line x1="342.4" y1="165.4" x2="534.5" y2="165.4" stroke="#FF4040" stroke-width="5.0" stroke-linecap="round"/>
<circle cx="438.5" cy="164.2" r="14.75" fill="#FF4040"/>
<text x="557" y="195.4" class="lg">a</text>
<line x1="342.4" y1="270.4" x2="534.5" y2="270.4" stroke="#C673E0" stroke-width="5.0" stroke-linecap="round"/>
<path d="M438.5,250.9L455.5,270.4L438.5,289.9L421.5,270.4Z" fill="#C673E0"/>
<text x="557" y="300.4" class="lg">b</text>
<line x1="342.4" y1="376.4" x2="534.5" y2="376.4" stroke="#006BE1" stroke-width="5.0" stroke-linecap="round"/>
<path d="M438.5,355.1L456.2,387.1L420.8,387.1Z" fill="#006BE1"/>
<text x="557" y="406.4" class="lg">c</text>
<line x1="342.0" y1="481.5" x2="534.9" y2="481.5" stroke="#00AD64" stroke-width="4.2" stroke-linecap="round"/>
<path d="M420.8,470.8L456.2,470.8L438.5,502.8Z" fill="#00AD64"/>
<text x="557" y="511.5" class="lg">d</text>
<line x1="342.2" y1="587.2" x2="534.6" y2="587.2" stroke="#505050" stroke-width="4.7" stroke-linecap="round"/>
<rect x="425.0" y="573.7" width="27.0" height="27.0" fill="#505050"/>
<text x="557" y="617.2" class="lg">e</text>
</svg>
</body></html>
